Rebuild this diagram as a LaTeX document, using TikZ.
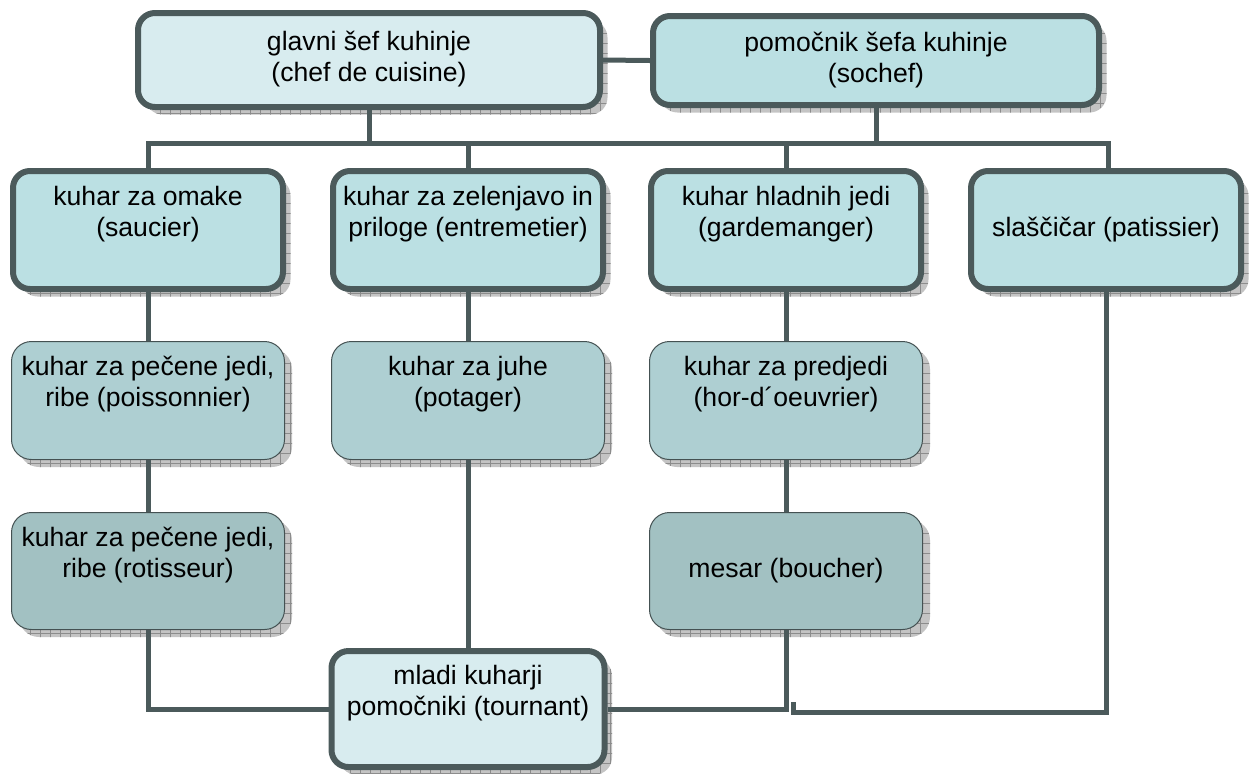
\documentclass[tikz,border=0pt]{standalone}
\usepackage{fontspec}
\setmainfont{Liberation Sans}
\usetikzlibrary{shadows,patterns.meta}
\definecolor{fillA}{HTML}{D8ECEF}
\definecolor{fillB}{HTML}{BBE0E3}
\definecolor{fillC}{HTML}{AECFD2}
\definecolor{fillD}{HTML}{A2C1C2}
\definecolor{bordercol}{HTML}{4B5A5B}
\definecolor{shadowgray}{HTML}{C4C4C4}
\definecolor{gridgray}{HTML}{8C8C8C}
\newcommand\mystrut{\rule[-0.3\baselineskip]{0pt}{\baselineskip}}
\tikzset{
  shad/.style={
    general shadow={shadow xshift=3.75pt, shadow yshift=-3.75pt, fill=shadowgray},
    general shadow={shadow xshift=3.75pt, shadow yshift=-3.75pt,
      pattern={Hatch[distance=5pt, line width=0.35pt]}, pattern color=gridgray}},
  basebox/.style={shad, rectangle, inner sep=0pt, align=center,
    font=\fontsize{13.3}{15.5}\selectfont, text=black},
  thickbox/.style={basebox, draw=bordercol, line width=3pt, rounded corners=8.5pt,
    minimum width=135pt, minimum height=59pt},
  thinbox/.style={basebox, draw=bordercol!90!black, line width=0.5pt, rounded corners=10pt,
    minimum width=136.5pt, minimum height=59pt},
  conn/.style={draw=bordercol, line width=2.5pt, line cap=butt, line join=miter},
}
\begin{document}
\begin{tikzpicture}[x=0.5pt,y=-0.5pt]
\useasboundingbox (0,0) rectangle (1258,773);
% top row
\node[thickbox, fill=fillA, minimum width=231pt, minimum height=47pt] (glavni) at (369,60)
  {\mystrut glavni šef kuhinje\\(chef de cuisine)\mystrut};
\node[thickbox, fill=fillB, minimum width=223pt, minimum height=44.5pt] (pomoc) at (876,60.5)
  {\mystrut pomočnik šefa kuhinje\\(sochef)\mystrut};
% second row
\node[thickbox, fill=fillB] (saucier) at (148,230)
  {\mystrut kuhar za omake\\(saucier)\\\mystrut};
\node[thickbox, fill=fillB] (entre) at (468,230)
  {\mystrut kuhar za zelenjavo in\\priloge (entremetier)\\\mystrut};
\node[thickbox, fill=fillB] (garde) at (786,230)
  {\mystrut kuhar hladnih jedi\\(gardemanger)\\\mystrut};
\node[thickbox, fill=fillB] (patis) at (1106,230)
  {\mystrut\\slaščičar (patissier)\\\mystrut};
% third row
\node[thinbox, fill=fillC] (poisson) at (148,400.5)
  {\mystrut kuhar za pečene jedi,\\ribe (poissonnier)\\\mystrut};
\node[thinbox, fill=fillC] (potager) at (468,400.5)
  {\mystrut kuhar za juhe\\(potager)\\\mystrut};
\node[thinbox, fill=fillC] (hors) at (786,400.5)
  {\mystrut kuhar za predjedi\\(hor-d´oeuvrier)\\\mystrut};
% fourth row
\node[thinbox, fill=fillD, minimum height=58.5pt] (rotis) at (148,571)
  {\mystrut kuhar za pečene jedi,\\ribe (rotisseur)\\\mystrut};
\node[thinbox, fill=fillD, minimum height=58.5pt] (boucher) at (786,571)
  {\mystrut\\mesar (boucher)\\\mystrut};
% tournant
\node[thickbox, fill=fillA, minimum width=136.5pt, minimum height=58pt] (tourn) at (468,709)
  {\mystrut mladi kuharji\\pomočniki (tournant)\\\mystrut};
% bus coordinates
\coordinate (busL) at (148,143);
\coordinate (busR) at (1108,143);
\coordinate (hook) at (793,712);
\coordinate (hookend) at (793,702);
% connectors
\draw[conn] (glavni.east) -- (pomoc.west);
\draw[conn] (glavni.south) -- (glavni.south |- busL);
\draw[conn] (pomoc.south) -- (pomoc.south |- busL);
\draw[conn] (busL |- saucier.north) -- (busL) -- (busR) -- (busR |- patis.north);
\draw[conn] (entre.north |- busL) -- (entre.north);
\draw[conn] (garde.north |- busL) -- (garde.north);
\draw[conn] (saucier.south) -- (poisson.north);
\draw[conn] (entre.south) -- (potager.north);
\draw[conn] (garde.south) -- (hors.north);
\draw[conn] (poisson.south) -- (rotis.north);
\draw[conn] (hors.south) -- (boucher.north);
\draw[conn] (potager.south) -- (tourn.north);
\draw[conn] (rotis.south) |- (tourn.west);
\draw[conn] (tourn.east) -| (boucher.south);
\draw[conn] (patis.south) |- (hook) -- (hookend);
\end{tikzpicture}
\end{document}
